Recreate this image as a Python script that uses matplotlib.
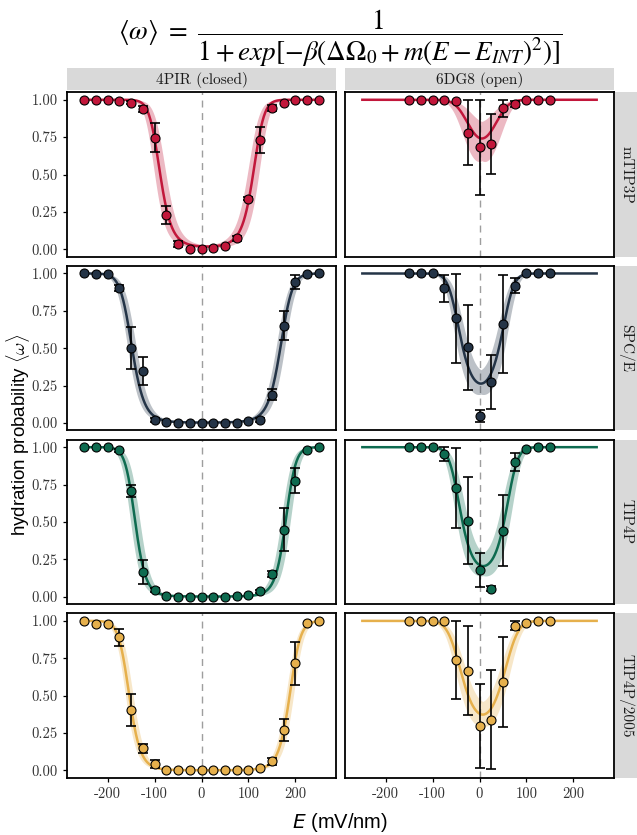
import numpy as np
import matplotlib
matplotlib.use("Agg")
import matplotlib.pyplot as plt

# field strengths (mV/nm)
E_closed = [-250, -225, -200, -175, -150, -125, -100, -75, -50, -25, 0,
            25, 50, 75, 100, 125, 150, 175, 200, 225, 250]
E_open = [-150, -125, -100, -75, -50, -25, 0, 25, 50, 75, 100, 125, 150]

models = ["mTIP3P", "SPC/E", "TIP4P", "TIP4P/2005"]
structures = ["4PIR (closed)", "6DG8 (open)"]
colors = ["#C2173B", "#243447", "#0E6B50", "#E6B04C"]

# hydration probability, 4PIR (closed)
w_mtip3p_closed = [1.0, 1.0, 1.0, 0.995, 0.98, 0.935, 0.747, 0.231, 0.033, 0.004, 0.0,
                   0.009, 0.02, 0.073, 0.338, 0.731, 0.944, 0.98, 1.0, 1.0, 1.0]
err_mtip3p_closed = [0, 0, 0, 0, 0.01, 0.02, 0.095, 0.06, 0.02, 0, 0,
                     0, 0, 0.015, 0.01, 0.085, 0.02, 0, 0, 0, 0]
w_spce_closed = [1.0, 0.998, 0.998, 0.902, 0.501, 0.347, 0.02, 0.004, 0, 0, 0,
                 0, 0, 0, 0.011, 0.02, 0.19, 0.65, 0.944, 0.998, 1.0]
err_spce_closed = [0, 0, 0, 0.02, 0.138, 0.092, 0.015, 0, 0, 0, 0,
                   0, 0, 0, 0, 0.015, 0.038, 0.098, 0.045, 0, 0]
w_tip4p_closed = [1.0, 1.0, 1.0, 0.98, 0.704, 0.167, 0.045, 0.004, 0, 0, 0,
                  0, 0, 0.005, 0.01, 0.036, 0.153, 0.447, 0.776, 0.984, 1.0]
err_tip4p_closed = [0, 0, 0, 0.01, 0.04, 0.08, 0.015, 0, 0, 0, 0,
                    0, 0, 0, 0, 0.01, 0.02, 0.145, 0.082, 0, 0]
w_tip4p2005_closed = [1.0, 0.978, 0.982, 0.889, 0.404, 0.149, 0.043, 0.005, 0, 0, 0,
                      0, 0, 0, 0, 0.015, 0.06, 0.269, 0.716, 0.989, 1.0]
err_tip4p2005_closed = [0, 0, 0, 0.058, 0.109, 0.03, 0.025, 0, 0, 0, 0,
                        0, 0, 0, 0, 0, 0.025, 0.075, 0.145, 0, 0]

# hydration probability, 6DG8 (open)
w_mtip3p_open = [1, 1, 1, 1, 0.993, 0.78, 0.682, 0.704, 0.942, 0.971, 1, 1, 1]
err_mtip3p_open = [0, 0, 0, 0, 0, 0.217, 0.318, 0.2, 0.058, 0.02, 0, 0, 0]
w_spce_open = [1, 1, 1, 0.9, 0.699, 0.506, 0.049, 0.274, 0.661, 0.918, 1, 1, 1]
err_spce_open = [0, 0, 0, 0.092, 0.3, 0.286, 0.04, 0.18, 0.33, 0.05, 0, 0, 0]
w_tip4p_open = [1, 1, 1, 0.953, 0.727, 0.509, 0.178, 0.053, 0.442, 0.898, 0.989, 1, 1]
err_tip4p_open = [0, 0, 0, 0.045, 0.27, 0.29, 0.115, 0.015, 0.236, 0.06, 0, 0, 0]
w_tip4p2005_open = [1, 1, 1, 1, 0.74, 0.667, 0.298, 0.338, 0.593, 0.967, 0.984, 1, 1]
err_tip4p2005_open = [0, 0, 0, 0, 0.26, 0.3, 0.28, 0.33, 0.3, 0.03, 0, 0, 0]

# fit parameters of the title model: beta*dOmega0, beta*m, E_INT (+ uncertainties)
fit_closed_bdO = [-4.0, -6.0, -7.2, -7.2]
fit_closed_bm = [4.08e-4, 2.4e-4, 2.8e-4, 2.46e-4]
fit_closed_Eint = [11, 10, 19, 17]
fit_open_bdO = [1.05, -1.03, -1.36, -0.52]
fit_open_bm = [7.0e-4, 7.0e-4, 6.9e-4, 5.4e-4]
fit_open_Eint = [5, 3, 8, 7]
unc_closed_bdO = [0.5, 0.4, 0.45, 0.35]
unc_closed_Eint = [6, 4, 5, 4]
unc_open_bdO = [0.7, 0.42, 0.47, 0.35]
unc_open_Eint = [6, 5, 5, 5]

w_closed = [w_mtip3p_closed, w_spce_closed, w_tip4p_closed, w_tip4p2005_closed]
e_closed = [err_mtip3p_closed, err_spce_closed, err_tip4p_closed, err_tip4p2005_closed]
w_open = [w_mtip3p_open, w_spce_open, w_tip4p_open, w_tip4p2005_open]
e_open = [err_mtip3p_open, err_spce_open, err_tip4p_open, err_tip4p2005_open]


def omega(E, bdO, bm, Eint):
    return 1.0 / (1.0 + np.exp(-(bdO + bm * (E - Eint) ** 2)))


W, H = 637, 835
fig = plt.figure(figsize=(W / 100, H / 100), dpi=100)

E_line = np.linspace(-250, 250, 501)
px_left = [67, 345]
px_top0, row_step, pw, ph = 92.3, 173.7, 269, 164.4
strip_kw = dict(family="cmr10", fontsize=11, color="#1A1A1A")
tick_kw = dict(family="cmr10", fontsize=10.5, color="#333333")

for r in range(4):
    for c in range(2):
        L, T = px_left[c], px_top0 + r * row_step
        ax = fig.add_axes([L / W, 1 - (T + ph) / H, pw / W, ph / H])
        if c == 0:
            E, w, e = E_closed, w_closed[r], e_closed[r]
            p = (fit_closed_bdO[r], fit_closed_bm[r], fit_closed_Eint[r])
            da, dE = unc_closed_bdO[r], unc_closed_Eint[r]
        else:
            E, w, e = E_open, w_open[r], e_open[r]
            p = (fit_open_bdO[r], fit_open_bm[r], fit_open_Eint[r])
            da, dE = unc_open_bdO[r], unc_open_Eint[r]
        col = colors[r]
        ax.axvline(0, color="#9E9E9E", lw=1.0, ls=(0, (5, 4)), zorder=1)
        curves = [omega(E_line, p[0] + s1 * da, p[1], p[2] + s2 * dE)
                  for s1 in (-1, 1) for s2 in (-1, 1)]
        ax.fill_between(E_line, np.min(curves, axis=0), np.max(curves, axis=0),
                        color=col, alpha=0.3, lw=0, zorder=2)
        ax.plot(E_line, omega(E_line, *p), color=col, lw=1.8, zorder=3)
        E = np.array(E, float)
        w = np.array(w, float)
        e = np.array(e, float)
        m = e > 0
        lo = np.minimum(e, w)[m]
        hi = np.minimum(e, 1 - w)[m]
        hi = np.where(hi < 0.004, 0.004, hi)
        ax.errorbar(E[m], w[m], yerr=[lo, hi], fmt="none", ecolor="black",
                    elinewidth=1.2, capsize=3.6, capthick=1.2, zorder=4)
        ax.scatter(E, w, s=42, color=col, edgecolors="black", linewidths=0.8, zorder=5)

        ax.set_xlim(-287, 287)
        ax.set_ylim(-0.05, 1.05)
        for s in ax.spines.values():
            s.set_linewidth(1.3)
        ax.tick_params(direction="out", length=3, width=0.9, colors="black")
        if c == 0:
            ax.set_yticks([0, 0.25, 0.5, 0.75, 1.0])
            ax.set_yticklabels(["0.00", "0.25", "0.50", "0.75", "1.00"], **tick_kw)
        else:
            ax.set_yticks([])
        if r == 3:
            ax.set_xticks([-200, -100, 0, 100, 200])
            ax.set_xticklabels(["-200", "-100", "0", "100", "200"], **tick_kw)
        else:
            ax.set_xticks([])

        if r == 0:
            sax = fig.add_axes([L / W, 1 - 90 / H, pw / W, 22 / H])
            sax.set_facecolor("#D9D9D9")
            sax.set_xticks([]); sax.set_yticks([])
            for s in sax.spines.values():
                s.set_visible(False)
            sax.text(0.5, 0.45, structures[c], ha="center", va="center", **strip_kw)
        if c == 1:
            sax = fig.add_axes([615 / W, 1 - (T + ph) / H, 22 / W, ph / H])
            sax.set_facecolor("#D9D9D9")
            sax.set_xticks([]); sax.set_yticks([])
            for s in sax.spines.values():
                s.set_visible(False)
            sax.text(0.5, 0.5, models[r], ha="center", va="center",
                     rotation=-90, **strip_kw)

fig.text(340 / W, 1 - 38 / H,
         r"$\langle\omega\rangle\ =\ \dfrac{1}{1+exp[-\beta(\mathit{\Delta\Omega}_0+m(E-E_{INT})^2)]}$",
         ha="center", va="center", fontsize=19.5, math_fontfamily="stix")
fig.text(18 / W, 1 - 435 / H, r"hydration probability $\langle\omega\rangle$",
         rotation=90, ha="center", va="center", fontsize=13.5,
         family="Liberation Sans", math_fontfamily="cm")
fig.text(340 / W, 1 - 823 / H, r"$E$ (mV/nm)", ha="center", va="center",
         fontsize=14.5, family="Liberation Sans", math_fontfamily="dejavusans")

fig.savefig("out.png", dpi=100)
